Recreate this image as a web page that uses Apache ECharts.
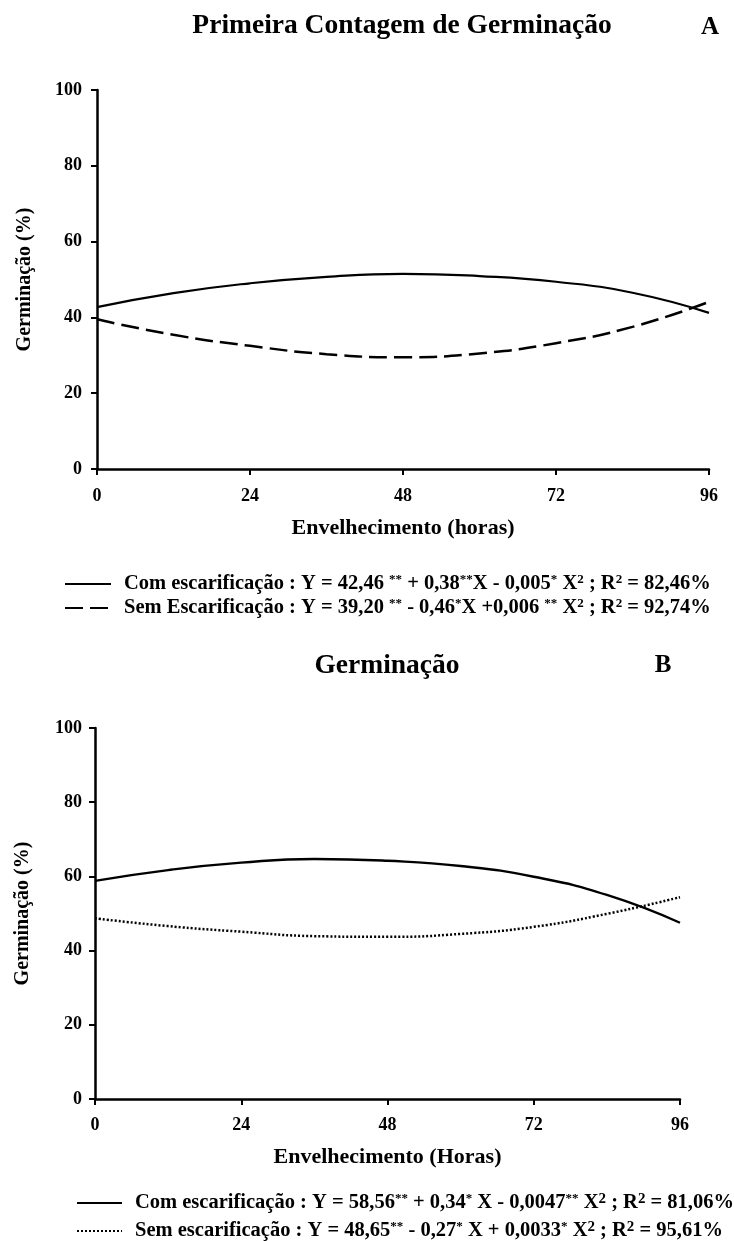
<!DOCTYPE html>
<html>
<head>
<meta charset="utf-8">
<script src="https://cdn.jsdelivr.net/npm/echarts@6/dist/echarts.min.js"></script>
<style>
  html, body { margin: 0; padding: 0; background: #fff; }
  #chart { width: 734px; height: 1241px; }
</style>
</head>
<body>
<div id="chart"></div>
<script>
// Aging time (hours) at which the fitted curves are read
const hours = [0, 12, 24, 36, 48, 60, 72, 84, 96];

// Panel A – first germination count (%)
const comEscarA = [42.7, 46.4, 49.0, 50.7, 51.5, 50.9, 49.4, 46.5, 41.2];
const semEscarA = [39.5, 35.4, 32.5, 30.3, 29.5, 30.5, 33.2, 37.5, 44.1];

// Panel B – germination (%)
const comEscarB = [58.8, 61.7, 63.7, 64.7, 64.2, 62.8, 59.9, 55.0, 47.5];
const semEscarB = [48.7, 46.6, 45.1, 43.9, 43.7, 44.5, 46.4, 49.9, 54.4];

// Axis ranges and tick steps
const xRange = [0, 96];
const xStep = 24;
const yRange = [0, 100];
const yStep = 20;

// Titles and axis names
const titleA = 'Primeira Contagem de Germinação';
const titleB = 'Germinação';
const xNameA = 'Envelhecimento (horas)';
const xNameB = 'Envelhecimento (Horas)';
const yName = 'Germinação (%)';

// Regression equations shown in the legends (rich text: t = normal, s/b = superscript)
const legendLabels = {
  comA: '{t|Com escarificação : Y = 42,46 }{s|**}{t| + 0,38}{s|**}{t|X - 0,005}{s|*}{t| X}{s|2}{t| ; R}{s|2}{t| = 82,46%}',
  semA: '{t|Sem Escarificação : Y = 39,20 }{s|**}{t| - 0,46}{s|*}{t|X +0,006 }{s|**}{t| X}{s|2}{t| ; R}{s|2}{t| = 92,74%}',
  comB: '{t|Com escarificação : Y = 58,56}{s|**}{t| + 0,34}{s|*}{t| X - 0,0047}{s|**}{t| X}{b|2}{t| ; R}{b|2}{t| = 81,06%}',
  semB: '{t|Sem escarificação : Y = 48,65}{s|**}{t| - 0,27}{s|*}{t| X + 0,0033}{s|*}{t| X}{b|2}{t| ; R}{b|2}{t| = 95,61%}'
};

const serif = "'Liberation Serif', 'Times New Roman', 'DejaVu Serif', serif";
const ink = '#000';
const clear = 'rgba(0,0,0,0)';

const pairs = vals => hours.map((h, i) => [h, vals[i]]);

function xAxisFor(gridIndex, name, gap, labelMargin) {
  return {
    type: 'value', gridIndex, min: xRange[0], max: xRange[1], interval: xStep,
    name, nameLocation: 'middle', nameGap: gap,
    nameTextStyle: { fontFamily: serif, fontWeight: 'bold', fontSize: 22, color: ink },
    axisLine: { show: true, onZero: false, lineStyle: { color: ink, width: 2.5 } },
    axisTick: { show: true, inside: false, length: 6, lineStyle: { color: ink, width: 2 } },
    axisLabel: { fontFamily: serif, fontWeight: 'bold', fontSize: 18, color: ink, margin: labelMargin },
    splitLine: { show: false }
  };
}

function yAxisFor(gridIndex, margin) {
  return {
    type: 'value', gridIndex, min: yRange[0], max: yRange[1], interval: yStep,
    name: yName, nameLocation: 'middle', nameGap: 62, nameRotate: 90,
    nameTextStyle: { fontFamily: serif, fontWeight: 'bold', fontSize: 20, color: ink },
    axisLine: { show: true, onZero: false, lineStyle: { color: ink, width: 2.5 } },
    axisTick: { show: true, inside: false, length: 6, lineStyle: { color: ink, width: 2 } },
    axisLabel: { fontFamily: serif, fontWeight: 'bold', fontSize: 18, color: ink, margin },
    splitLine: { show: false }
  };
}

const richStyles = {
  t: { fontFamily: serif, fontWeight: 'bold', fontSize: 20.5, color: ink, lineHeight: 22, verticalAlign: 'middle' },
  s: { fontFamily: serif, fontWeight: 'bold', fontSize: 13, color: ink, lineHeight: 12, verticalAlign: 'top' },
  b: { fontFamily: serif, fontWeight: 'bold', fontSize: 15, color: ink, lineHeight: 14, verticalAlign: 'top' }
};

function legendFor(name, left, top, width) {
  return {
    data: [name], left, top, padding: 0,
    itemWidth: width, itemHeight: 14,
    selectedMode: false,
    // only the line sample is shown, the point marker stays invisible
    itemStyle: { color: clear, borderColor: clear, borderWidth: 0 },
    formatter: n => legendLabels[n],
    textStyle: { rich: richStyles, padding: [0, 0, 0, 8] }
  };
}

function titleFor(text, left, top, size) {
  return {
    text, left, top, padding: 0, textAlign: 'center',
    textStyle: { fontFamily: serif, fontWeight: 'bold', fontSize: size, color: ink }
  };
}

const chart = echarts.init(document.getElementById('chart'), null, { renderer: 'canvas' });

chart.setOption({
  backgroundColor: '#fff',
  animation: false,
  title: [
    titleFor(titleA, 402, 12, 27.5),
    titleFor('A', 710, 15, 25),
    titleFor(titleB, 387, 652, 27.5),
    titleFor('B', 663, 653, 25)
  ],
  grid: [
    { left: 97, top: 90, width: 612, height: 379 },
    { left: 95, top: 728, width: 585, height: 371 }
  ],
  xAxis: [xAxisFor(0, xNameA, 48, 18), xAxisFor(1, xNameB, 47, 17)],
  yAxis: [yAxisFor(0, 15), yAxisFor(1, 13)],
  legend: [
    legendFor('comA', 64, 573, 46),
    legendFor('semA', 64, 597, 46),
    legendFor('comB', 76, 1192, 45),
    legendFor('semB', 76, 1220, 45)
  ],
  series: [
    {
      name: 'comA', type: 'line', xAxisIndex: 0, yAxisIndex: 0, smooth: true,
      symbol: 'none', data: pairs(comEscarA), itemStyle: { color: ink },
      lineStyle: { color: ink, width: 2.2, type: 'solid' }
    },
    {
      name: 'semA', type: 'line', xAxisIndex: 0, yAxisIndex: 0, smooth: true,
      symbol: 'none', data: pairs(semEscarA), itemStyle: { color: ink },
      lineStyle: { color: ink, width: 2.5, type: [18, 7] }
    },
    {
      name: 'comB', type: 'line', xAxisIndex: 1, yAxisIndex: 1, smooth: true,
      symbol: 'none', data: pairs(comEscarB), itemStyle: { color: ink },
      lineStyle: { color: ink, width: 2.4, type: 'solid' }
    },
    {
      name: 'semB', type: 'line', xAxisIndex: 1, yAxisIndex: 1, smooth: true,
      symbol: 'none', data: pairs(semEscarB), itemStyle: { color: ink },
      lineStyle: { color: ink, width: 2.5, type: [2, 2] }
    }
  ]
});
</script>
</body>
</html>
